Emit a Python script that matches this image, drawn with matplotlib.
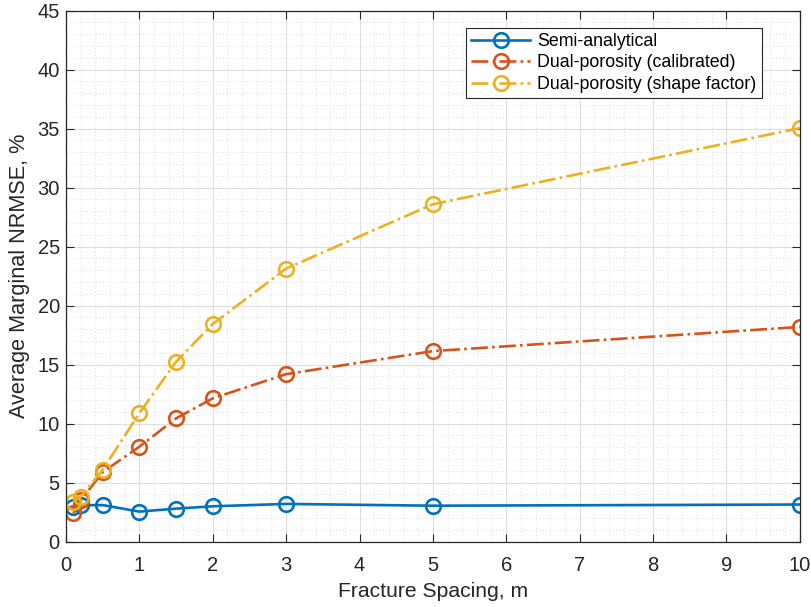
import matplotlib
matplotlib.use("Agg")
import matplotlib.pyplot as plt
from matplotlib.ticker import MultipleLocator

plt.rcParams.update({
    "font.family": ["Liberation Sans", "DejaVu Sans"],
    "font.size": 13,
})

# fracture spacing (m)
spacing = [0.1, 0.2, 0.5, 1, 1.5, 2, 3, 5, 10]

# average marginal NRMSE (%)
semi_analytical = [2.9, 3.1, 3.1, 2.55, 2.8, 3.0, 3.2, 3.05, 3.15]
dual_calibrated = [2.4, 3.5, 5.9, 8.05, 10.45, 12.15, 14.2, 16.15, 18.2]
dual_shape = [3.4, 3.8, 6.1, 10.9, 15.25, 18.45, 23.15, 28.6, 35.05]

labels = ["Semi-analytical", "Dual-porosity (calibrated)",
          "Dual-porosity (shape factor)"]

BLUE = "#0072BD"
ORANGE = "#D95319"
YELLOW = "#EDB120"
INK = "#262626"

fig = plt.figure(figsize=(8.12, 6.07), dpi=100)
ax = fig.add_axes([0.0813, 0.1076, 0.9037, 0.8748])

style = dict(marker="o", markersize=10.5, markerfacecolor="none",
             markeredgewidth=1.9, linewidth=1.9)
ax.plot(spacing, semi_analytical, "-", color=BLUE, label=labels[0], **style)
ax.plot(spacing, dual_calibrated, "-.", color=ORANGE, label=labels[1], **style)
ax.plot(spacing, dual_shape, "-.", color=YELLOW, label=labels[2], **style)

ax.set_xlim(0, 10)
ax.set_ylim(0, 45)
ax.xaxis.set_major_locator(MultipleLocator(1))
ax.yaxis.set_major_locator(MultipleLocator(5))
ax.xaxis.set_minor_locator(MultipleLocator(0.2))
ax.yaxis.set_minor_locator(MultipleLocator(1))

ax.grid(which="major", color="#dedede", linewidth=0.8)
ax.grid(which="minor", color="#d4d4d4", linestyle=(0, (1, 3)), linewidth=0.6)
ax.set_axisbelow(True)

ax.tick_params(which="major", direction="in", length=6, width=0.8,
               top=True, right=True, colors=INK, labelsize=14.5)
ax.tick_params(axis="x", which="major", pad=10)
ax.tick_params(axis="y", which="major", pad=4.5)
ax.tick_params(which="minor", length=0, top=True, right=True)
for side in ax.spines.values():
    side.set_color(INK)
    side.set_linewidth(0.9)

ax.set_xlabel("Fracture Spacing, m", fontsize=15.2, color=INK, labelpad=5)
ax.set_ylabel("Average Marginal NRMSE, %", fontsize=15.6, color=INK,
              labelpad=5)

leg = ax.legend(loc="upper right", bbox_to_anchor=(0.948, 0.968),
                fancybox=False, framealpha=1, edgecolor=INK,
                fontsize=12.8, handlelength=3.3, borderpad=0.3,
                labelspacing=0.25, handletextpad=0.4, borderaxespad=0)
leg.get_frame().set_linewidth(0.8)

fig.savefig("out.png", dpi=100)
